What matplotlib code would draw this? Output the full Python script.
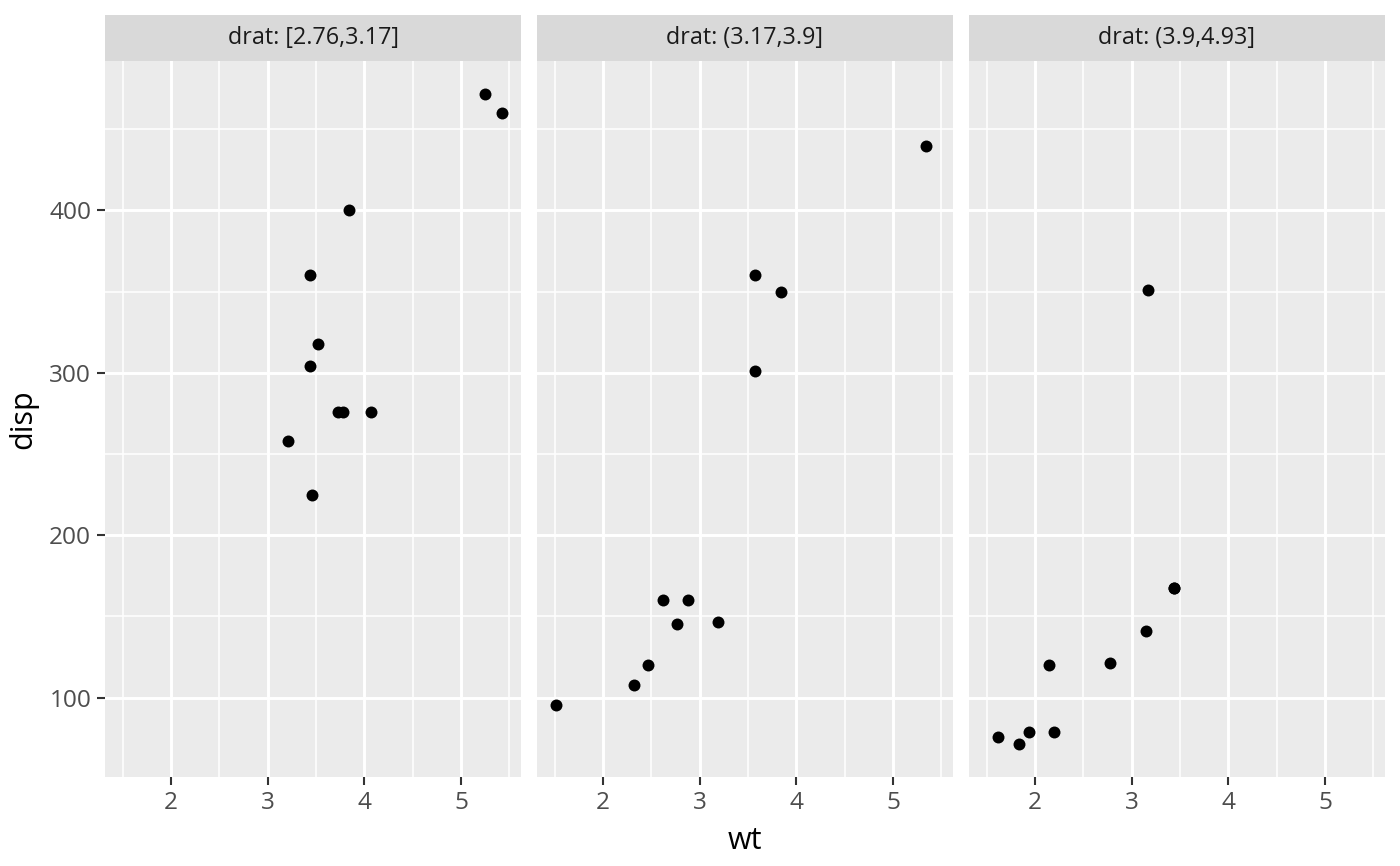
import matplotlib
matplotlib.use("Agg")
import matplotlib.pyplot as plt

plt.rcParams['font.family'] = ['Open Sans', 'DejaVu Sans']

panel_labels = ["drat: [2.76,3.17]", "drat: (3.17,3.9]", "drat: (3.9,4.93]"]
wt1 = [3.215, 3.440, 3.460, 4.070, 3.730, 3.780, 5.250, 5.424, 3.520, 3.435, 3.845]
disp1 = [258, 360, 225, 275.8, 275.8, 275.8, 472, 460, 318, 304, 400]
wt2 = [2.620, 2.875, 2.320, 3.570, 3.190, 5.345, 2.465, 3.840, 1.513, 2.770, 3.570]
disp2 = [160, 160, 108, 360, 146.7, 440, 120.1, 350, 95.1, 145, 301]
wt3 = [3.150, 3.440, 3.440, 2.200, 1.615, 1.835, 1.935, 2.140, 3.170, 2.780]
disp3 = [140.8, 167.6, 167.6, 78.7, 75.7, 71.1, 79, 120.3, 351, 121]
x_ticks = [2, 3, 4, 5]
x_minor = [1.5, 2.5, 3.5, 4.5, 5.5]
y_ticks = [100, 200, 300, 400]
y_minor = [150, 250, 350, 450]

wts = [wt1, wt2, wt3]
disps = [disp1, disp2, disp3]

allx = wt1 + wt2 + wt3
ally = disp1 + disp2 + disp3
xr = max(allx) - min(allx)
yr = max(ally) - min(ally)
xlim = (min(allx) - 0.05 * xr, max(allx) + 0.05 * xr)
ylim = (min(ally) - 0.05 * yr, max(ally) + 0.05 * yr)

W, H = 1400, 866
fig = plt.figure(figsize=(7, 4.33), dpi=200)

lefts = [105, 537, 969]
pw = 416
strip_top, strip_bot, panel_bot = 15, 61, 777

for i in range(3):
    l = lefts[i] / W
    w = pw / W
    ax = fig.add_axes([l, 1 - panel_bot / H, w, (panel_bot - strip_bot) / H])
    ax.set_facecolor('#EBEBEB')
    ax.set_xlim(*xlim)
    ax.set_ylim(*ylim)
    for v in x_minor:
        ax.axvline(v, color='white', lw=0.55, zorder=0.5)
    for v in y_minor:
        ax.axhline(v, color='white', lw=0.55, zorder=0.5)
    for v in x_ticks:
        ax.axvline(v, color='white', lw=1.07, zorder=0.6)
    for v in y_ticks:
        ax.axhline(v, color='white', lw=1.07, zorder=0.6)
    ax.scatter(wts[i], disps[i], s=4.3 ** 2, color='black', zorder=3, linewidths=0)
    for sp in ax.spines.values():
        sp.set_visible(False)
    ax.set_xticks(x_ticks)
    ax.set_xticklabels([str(t) for t in x_ticks])
    ax.set_yticks(y_ticks)
    ax.tick_params(axis='both', length=2.75, width=0.75, color='#333333',
                   labelsize=8.8, labelcolor='#4D4D4D', pad=2.2)
    if i == 0:
        ax.set_yticklabels([str(t) for t in y_ticks])
        ax.set_ylabel('disp', fontsize=11, color='black', labelpad=4)
    else:
        ax.set_yticklabels([])
        ax.tick_params(axis='y', left=False)
    if i == 1:
        ax.set_xlabel('wt', fontsize=11, color='black', labelpad=4)

    sax = fig.add_axes([l, 1 - strip_bot / H, w, (strip_bot - strip_top) / H])
    sax.set_facecolor('#D9D9D9')
    sax.set_xticks([])
    sax.set_yticks([])
    for sp in sax.spines.values():
        sp.set_visible(False)
    sax.text(0.5, 0.5, panel_labels[i], ha='center', va='center',
             fontsize=8.4, color='#1A1A1A', transform=sax.transAxes)

fig.savefig('out.png', dpi=200, facecolor='white')
